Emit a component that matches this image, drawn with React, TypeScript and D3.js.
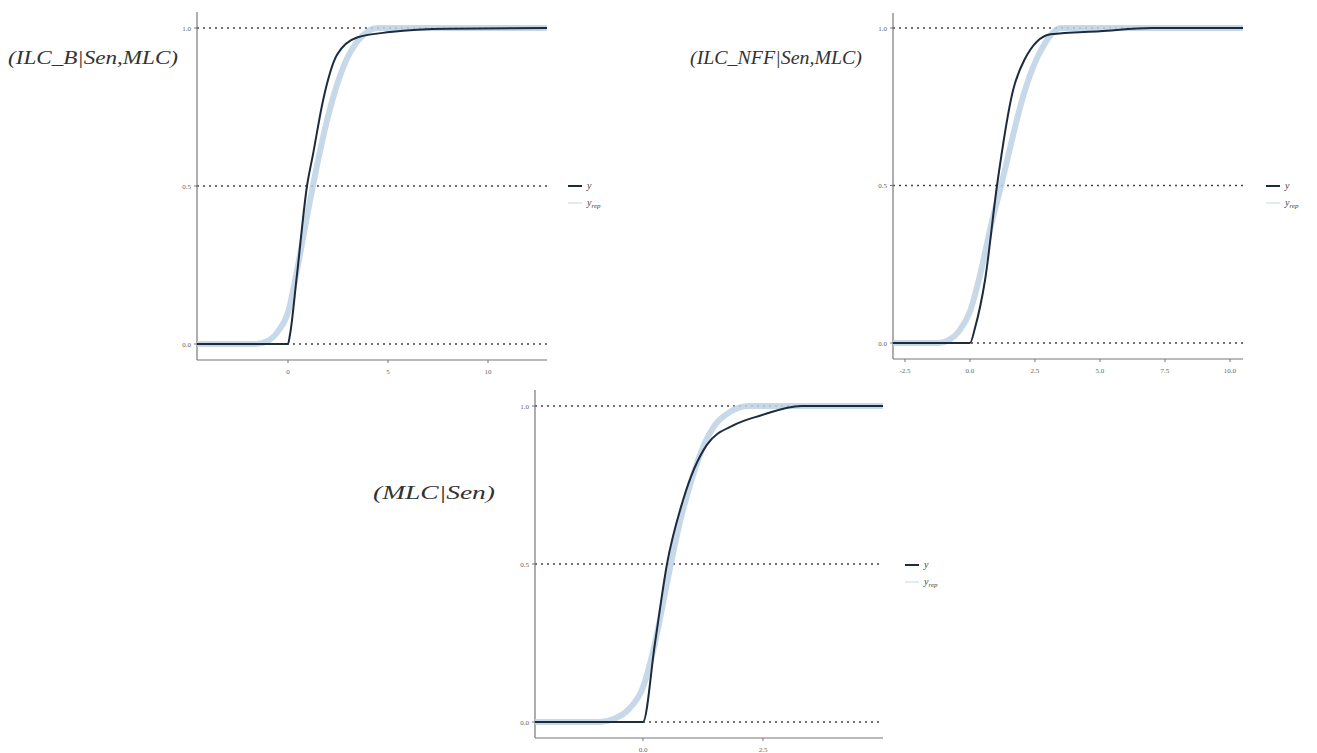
import { useEffect, useRef } from "react";
import * as d3 from "d3";

// panel 1: (ILC_B|Sen,MLC)
const p1X = [-4.55, 0, 0.1, 0.45, 0.95, 1.25, 1.75, 2.45, 3.45, 5.1, 8, 12.95];
const p1Y = [0, 0, 0.03, 0.22, 0.5, 0.6, 0.77, 0.915, 0.97, 0.987, 0.998, 1.0];
const p1RepX = [-4.55, -1.6, -1.0, -0.5, 0, 0.5, 1.0, 1.5, 2.0, 2.5, 3.0, 3.5, 4.5, 12.95];
const p1RepY = [0, 0, 0.01, 0.04, 0.1, 0.25, 0.42, 0.58, 0.72, 0.83, 0.91, 0.96, 1, 1];
const p1Ticks = [0, 5, 10];
const p1TickLabels = ["0", "5", "10"];

// panel 2: (ILC_NFF|Sen,MLC)
const p2X = [-2.96, 0.0, 0.2, 0.58, 1.04, 1.65, 2.1, 3.1, 5, 7, 10.5];
const p2Y = [0, 0, 0.05, 0.2, 0.5, 0.8, 0.9, 0.98, 0.99, 1.0, 1.0];
const p2RepX = [-2.96, -1.2, -0.8, -0.4, 0, 0.4, 0.8, 1.2, 1.6, 2.0, 2.4, 2.8, 3.5, 10.5];
const p2RepY = [0, 0, 0.01, 0.04, 0.1, 0.22, 0.37, 0.5, 0.64, 0.77, 0.87, 0.94, 1, 1];
const p2Ticks = [-2.5, 0, 2.5, 5, 7.5, 10];
const p2TickLabels = ["-2.5", "0.0", "2.5", "5.0", "7.5", "10.0"];

// panel 3: (MLC|Sen)
const p3X = [-2.25, 0, 0.25, 0.5, 0.83, 1.33, 1.9, 2.45, 3.3, 5];
const p3Y = [0, 0, 0.25, 0.5, 0.7, 0.877, 0.94, 0.97, 1, 1];
const p3RepX = [-2.25, -0.9, -0.6, -0.3, 0, 0.25, 0.5, 0.75, 1.0, 1.25, 1.5, 1.8, 2.2, 5];
const p3RepY = [0, 0, 0.01, 0.04, 0.11, 0.25, 0.44, 0.62, 0.76, 0.87, 0.94, 0.98, 1, 1];
const p3Ticks = [0, 2.5];
const p3TickLabels = ["0.0", "2.5"];

const yTicks = [0, 0.5, 1];
const yTickLabels = ["0.0", "0.5", "1.0"];

const panels = [
  {
    title: "ILC_B|Sen,MLC",
    xs: p1X, ys: p1Y, repXs: p1RepX, repYs: p1RepY,
    ticks: p1Ticks, tickLabels: p1TickLabels,
    left: 197, right: 547, top: 28, bottom: 344, axisTop: 12, axisY: 360,
    titleX: 8, titleY: 64, titleW: 170,
    legX: 568, legY: 186,
  },
  {
    title: "ILC_NFF|Sen,MLC",
    xs: p2X, ys: p2Y, repXs: p2RepX, repYs: p2RepY,
    ticks: p2Ticks, tickLabels: p2TickLabels,
    left: 893, right: 1243, top: 28, bottom: 343, axisTop: 13, axisY: 359,
    titleX: 690, titleY: 64, titleW: 172,
    legX: 1266, legY: 186,
  },
  {
    title: "MLC|Sen",
    xs: p3X, ys: p3Y, repXs: p3RepX, repYs: p3RepY,
    ticks: p3Ticks, tickLabels: p3TickLabels,
    left: 535, right: 883, top: 406, bottom: 722, axisTop: 390, axisY: 738,
    titleX: 373, titleY: 499, titleW: 122,
    legX: 905, legY: 565,
  },
];

export default function App() {
  const ref = useRef(null);

  useEffect(() => {
    const svg = d3.select(ref.current);
    svg.selectAll("*").remove();

    panels.forEach(function (p) {
      const x = d3.scaleLinear()
        .domain([p.xs[0], p.xs[p.xs.length - 1]])
        .range([p.left, p.right]);
      const y = d3.scaleLinear().domain([0, 1]).range([p.bottom, p.top]);
      const g = svg.append("g");

      // dotted reference lines
      g.selectAll(".grid")
        .data(yTicks).enter()
        .append("line")
        .attr("x1", p.left)
        .attr("x2", p.right)
        .attr("y1", (d) => y(d))
        .attr("y2", (d) => y(d))
        .attr("stroke", "#444")
        .attr("stroke-width", 1.5)
        .attr("stroke-dasharray", "2,4");

      // axes
      g.append("line")
        .attr("x1", p.left).attr("x2", p.left)
        .attr("y1", p.axisTop).attr("y2", p.axisY)
        .attr("stroke", "#777").attr("stroke-width", 1.2);
      g.append("line")
        .attr("x1", p.left).attr("x2", p.right)
        .attr("y1", p.axisY).attr("y2", p.axisY)
        .attr("stroke", "#777").attr("stroke-width", 1.2);

      g.selectAll(".ytick")
        .data(yTicks).enter()
        .append("text")
        .attr("x", p.left - 6)
        .attr("y", (d) => y(d) + 2.5)
        .attr("text-anchor", "end")
        .attr("font-family", "Liberation Serif")
        .attr("font-size", 7)
        .attr("fill", "#666")
        .text((d, i) => yTickLabels[i]);
      g.selectAll(".ymark")
        .data(yTicks).enter()
        .append("line")
        .attr("x1", p.left - 3).attr("x2", p.left)
        .attr("y1", (d) => y(d)).attr("y2", (d) => y(d))
        .attr("stroke", "#777");

      g.selectAll(".xtick")
        .data(p.ticks).enter()
        .append("text")
        .attr("x", (d) => x(d))
        .attr("y", p.axisY + 14)
        .attr("text-anchor", "middle")
        .attr("font-family", "Liberation Serif")
        .attr("font-size", 7)
        .attr("fill", "#666")
        .text((d, i) => p.tickLabels[i]);
      g.selectAll(".xmark")
        .data(p.ticks).enter()
        .append("line")
        .attr("x1", (d) => x(d)).attr("x2", (d) => x(d))
        .attr("y1", p.axisY).attr("y2", p.axisY + 3)
        .attr("stroke", "#777");

      const line = d3.line()
        .x((d) => x(d[0]))
        .y((d) => y(d[1]))
        .curve(d3.curveMonotoneX);

      // y_rep band
      g.append("path")
        .attr("d", line(d3.zip(p.repXs, p.repYs)))
        .attr("fill", "none")
        .attr("stroke", "#bdd2e5")
        .attr("stroke-width", 6)
        .attr("stroke-linejoin", "round")
        .attr("opacity", 0.85);

      // observed y
      g.append("path")
        .attr("d", line(d3.zip(p.xs, p.ys)))
        .attr("fill", "none")
        .attr("stroke", "#1d2b3c")
        .attr("stroke-width", 2);

      // legend
      g.append("line")
        .attr("x1", p.legX).attr("x2", p.legX + 14)
        .attr("y1", p.legY).attr("y2", p.legY)
        .attr("stroke", "#1d2b3c").attr("stroke-width", 2);
      g.append("text")
        .attr("x", p.legX + 19).attr("y", p.legY + 3)
        .attr("font-family", "Liberation Serif")
        .attr("font-style", "italic")
        .attr("font-size", 10)
        .attr("fill", "#444")
        .text("y");
      g.append("line")
        .attr("x1", p.legX).attr("x2", p.legX + 14)
        .attr("y1", p.legY + 17).attr("y2", p.legY + 17)
        .attr("stroke", "#e2eaf2").attr("stroke-width", 2);
      const rep = g.append("text")
        .attr("x", p.legX + 19).attr("y", p.legY + 20)
        .attr("font-family", "Liberation Serif")
        .attr("font-style", "italic")
        .attr("font-size", 10)
        .attr("fill", "#444");
      rep.append("tspan").text("y");
      rep.append("tspan").attr("font-size", 7).attr("dy", 2).text("rep");

      // panel label
      g.append("text")
        .attr("x", p.titleX).attr("y", p.titleY)
        .attr("font-family", "Liberation Serif")
        .attr("font-style", "italic")
        .attr("font-size", 18)
        .attr("fill", "#333")
        .attr("textLength", p.titleW)
        .attr("lengthAdjust", "spacingAndGlyphs")
        .text("(" + p.title + ")");
    });
  }, []);

  return (
    <svg
      ref={ref}
      width={1317}
      height={753}
      style={{ position: "absolute", left: 0, top: 0, background: "#fff" }}
    />
  );
}
